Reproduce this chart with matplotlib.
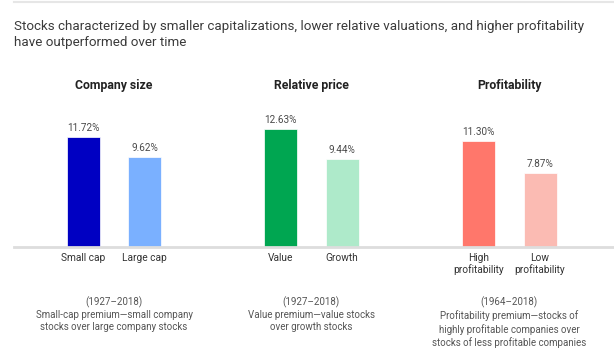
import numpy as np
import matplotlib.pyplot as plt
from matplotlib.lines import Line2D

plt.rcParams['font.family'] = ['Roboto', 'DejaVu Sans']

# data
groups = ["Company size", "Relative price", "Profitability"]
labels = ["Small cap", "Large cap", "Value", "Growth",
          "High\nprofitability", "Low\nprofitability"]
values = [11.72, 9.62, 12.63, 9.44, 11.30, 7.87]
notes = [
    "(1927\u20132018)\nSmall-cap premium\u2014small company\nstocks over large company stocks",
    "(1927\u20132018)\nValue premium\u2014value stocks\nover growth stocks",
    "(1964\u20132018)\nProfitability premium\u2014stocks of\nhighly profitable companies over\nstocks of less profitable companies",
]
colors = ["#0000C2", "#7AB0FF", "#00A651", "#AEEACA", "#FF776B", "#FBBBB3"]

W, H = 614, 364
fig = plt.figure(figsize=(W / 100, H / 100), dpi=100)

# axes: x in pixels, y in percent; baseline at y=247 px
base_px, top_px = 247, 60
px_per_pct = 9.35
ax = fig.add_axes([14 / W, 1 - base_px / H, 600 / W, (base_px - top_px) / H])
ax.set_xlim(14, 614)
ax.set_ylim(0, (base_px - top_px) / px_per_pct)
ax.axis('off')

x = np.array([83.5, 144.5, 280.5, 342, 478.5, 540])
ax.bar(x, values, width=33, color=colors, edgecolor='white', linewidth=0.5)
for xi, v in zip(x, values):
    ax.text(xi, v + 0.45, f"{v:.2f}%", ha='center', va='bottom',
            fontsize=7.2, color='#4a4a4a')

# baseline
ax.axhline(0, color='#dddddd', lw=2, clip_on=False)

def fy(py):
    return 1 - py / H

def fx(px):
    return px / W

centers = [(x[0] + x[1]) / 2, (x[2] + x[3]) / 2, (x[4] + x[5]) / 2]
for c, g in zip(centers, groups):
    fig.text(fx(c), fy(85), g, ha='center', va='center', fontsize=8.8,
             fontweight='bold', color='#222222')

for xi, lab in zip(x, labels):
    fig.text(fx(xi), fy(253), lab, ha='center', va='top', fontsize=7.3,
             color='#333333', linespacing=1.15)

for c, n in zip(centers, notes):
    fig.text(fx(c), fy(296), n, ha='center', va='top', fontsize=7,
             color='#555555', linespacing=1.3)

fig.text(fx(14), fy(20), "Stocks characterized by smaller capitalizations, lower relative valuations, and higher profitability\nhave outperformed over time",
         ha='left', va='top', fontsize=9.65, color='#3a3a3a', linespacing=1.3)

fig.add_artist(Line2D([fx(14), 1], [fy(1.5), fy(1.5)], color='#e6e6e6', lw=1.5))

fig.savefig("out.png", dpi=100)
